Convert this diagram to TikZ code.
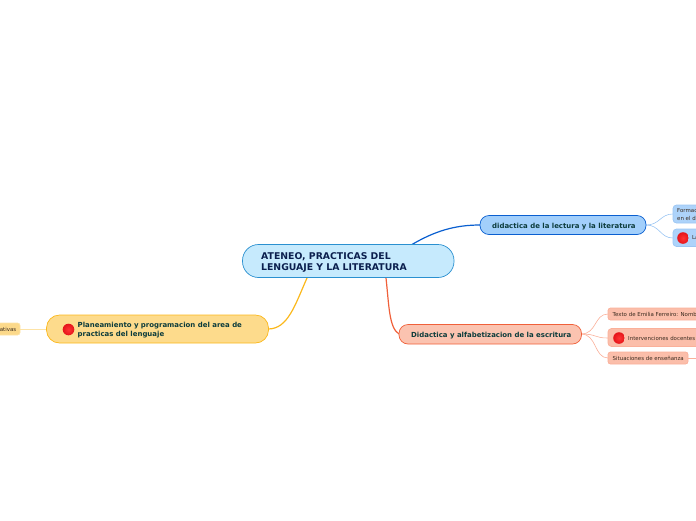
\documentclass[tikz,border=0pt]{standalone}
\usepackage{fontspec}
\setmainfont{DejaVu Sans}
\definecolor{cfill}{HTML}{C6EAFD}
\definecolor{cline}{HTML}{2A90D0}
\definecolor{ctext}{HTML}{0B1F4E}
\definecolor{bfill}{HTML}{A2CFFB}
\definecolor{bline}{HTML}{0A5FD0}
\definecolor{btext}{HTML}{0B3B3B}
\definecolor{bsub}{HTML}{ADD3FA}
\definecolor{bsubl}{HTML}{9CC6F3}
\definecolor{rfill}{HTML}{FBC3B0}
\definecolor{rline}{HTML}{F0603A}
\definecolor{rsub}{HTML}{FBBEAA}
\definecolor{rsubl}{HTML}{FAB09A}
\definecolor{yfill}{HTML}{FDDB8C}
\definecolor{yline}{HTML}{FBB81C}
\definecolor{ysub}{HTML}{FCD98A}
\definecolor{ysubl}{HTML}{FDE3A6}
\definecolor{subtext}{HTML}{3A2A1E}
\definecolor{ballin}{HTML}{FF3434}
\definecolor{ballout}{HTML}{E5141A}
\tikzset{
  box/.style={rounded corners=#1,line width=0.7pt},
  central/.style={font=\bfseries\fontsize{9.3}{11.3}\selectfont,text=ctext,align=left,anchor=west,inner sep=0pt},
  maintxt/.style={font=\bfseries\fontsize{6.95}{8.7}\selectfont,text=btext,align=left,anchor=west,inner sep=0pt},
  subtxt/.style={font=\fontsize{5.45}{7.2}\selectfont,text=subtext,align=left,anchor=west,inner sep=0pt},
  redball/.pic={\shade[inner color=ballin,outer color=ballout,draw=none] (0,0) circle (5.8);}
}
\begin{document}
\begin{tikzpicture}[x=1pt,y=-1pt]
\useasboundingbox (0,0) rectangle (696,520);
\clip (0,0) rectangle (696,520);
% central and main-topic outlines
\coordinate (cTop) at (412,244.5);
\coordinate (cBotR) at (386,278);
\coordinate (cBotL) at (307,278);
\coordinate (bL) at (480,225);
\coordinate (rL) at (399,334);
\coordinate (yR) at (268,329);
\draw[bline,line width=1.2pt] (cTop) .. controls (435,231) and (455,225) .. (bL);
\draw[rline,line width=1.2pt] (cBotR) .. controls (389,305) and (389,328) .. (rL);
\draw[yline,line width=1.2pt] (cBotL) .. controls (295,305) and (288,329) .. (yR);
% sub links
\coordinate (bR) at (646,225);
\coordinate (rR) at (581,334);
\coordinate (yL) at (46,329);
\coordinate (b1) at (673,214);
\coordinate (b2) at (673,238);
\coordinate (r1) at (608,314);
\coordinate (r2) at (608,338);
\coordinate (r3) at (608,358);
\coordinate (y1) at (20,329);
\coordinate (r3R) at (688,358);
\coordinate (r3E) at (696,358);
\draw[bsubl,line width=0.6pt] (bR) .. controls (660,225) and (660,214) .. (b1);
\draw[bsubl,line width=0.6pt] (bR) .. controls (660,225) and (660,238) .. (b2);
\draw[rsubl,line width=0.6pt] (rR) .. controls (597,334) and (594,314) .. (r1);
\draw[rsubl,line width=0.6pt] (rR) .. controls (597,334) and (594,338) .. (r2);
\draw[rsubl,line width=0.6pt] (rR) .. controls (597,334) and (594,358) .. (r3);
\draw[rsubl,line width=0.6pt] (r3R) -- (r3E);
\draw[ysubl,line width=0.6pt] (yL) -- (y1);
% central
\draw[box=16,cline,fill=cfill] (242.5,244.5) rectangle (454,277.5);
\node[central] (ctxt) at (261,262.5) {ATENEO, PRACTICAS DEL\\LENGUAJE Y LA LITERATURA};
% blue
\draw[box=9,bline,fill=bfill] (480,215.5) rectangle (646,234.5);
\node[maintxt] (btxt) at (492,226.2) {didactica de la lectura y la literatura};
\draw[box=3.5,bsubl,fill=bsub] (673,205) rectangle (710,223);
\node[subtxt] (b1txt) at (677,214.5) {Formac\\en el d};
\draw[box=3.5,bsubl,fill=bsub] (673,229) rectangle (710,246.5);
\pic at (683,238) {redball};
\node[subtxt] (b2txt) at (692,238) {La};
% red
\draw[box=9,rline,fill=rfill] (399,324.5) rectangle (581.5,344);
\node[maintxt] (rtxt) at (411,335.5) {Didactica y alfabetizacion de la escritura};
\draw[box=2.5,rsubl,fill=rsub] (608,308) rectangle (720,320);
\node[subtxt] (r1txt) at (612.5,314) {Texto de Emilia Ferreiro: Nomb};
\draw[box=3.5,rsubl,fill=rsub] (608,328.5) rectangle (720,346.5);
\pic at (619,338) {redball};
\node[subtxt] (r2txt) at (628,338) {Intervenciones docentes};
\draw[box=2.5,rsubl,fill=rsub] (608,352) rectangle (688,364);
\node[subtxt] (r3txt) at (612.5,358) {Situaciones de enseñanza};
% yellow
\draw[box=13,yline,fill=yfill] (46.5,315) rectangle (268.5,343);
\pic at (68.5,329.5) {redball};
\node[maintxt] (ytxt) at (77.5,330) {Planeamiento y programacion del area de\\practicas del lenguaje};
\draw[box=2.5,ysubl,fill=ysub] (-40,323) rectangle (20,335);
\node[subtxt,anchor=east] (y1txt) at (16.5,329) {ativas};
\end{tikzpicture}
\end{document}
